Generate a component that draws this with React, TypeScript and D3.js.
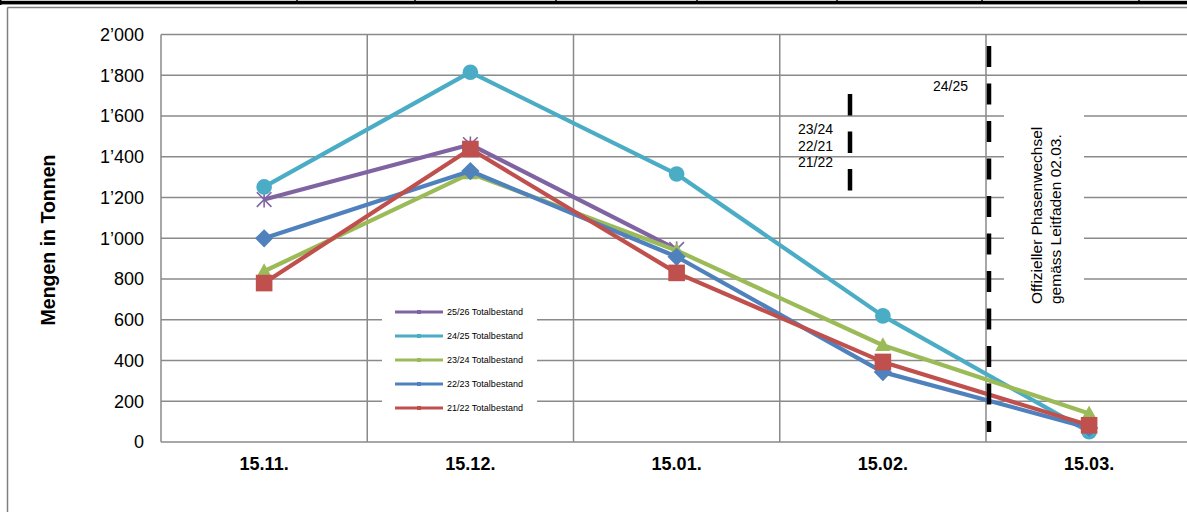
import React from "react";
import * as d3 from "d3";

const categories = ["15.11.", "15.12.", "15.01.", "15.02.", "15.03."];
const yTicks = [0, 200, 400, 600, 800, 1000, 1200, 1400, 1600, 1800, 2000];

const s2526 = [1190, 1460, 945];
const s2425 = [1252, 1815, 1315, 619, 50];
const s2324 = [838, 1318, 940, 475, 140];
const s2223 = [1000, 1330, 909, 343, 69];
const s2122 = [780, 1438, 830, 393, 82];

const seriesNames = ["25/26 Totalbestand", "24/25 Totalbestand", "23/24 Totalbestand", "22/23 Totalbestand", "21/22 Totalbestand"];
const seriesColors = ["#8064A2", "#4BACC6", "#9BBB59", "#4F81BD", "#C0504D"];
const seriesMarkers = ["star", "circle", "triangle", "diamond", "square"];
const seriesValues = [s2526, s2425, s2324, s2223, s2122];

const topTicks = [297, 415, 556, 697, 837, 982, 1139];

const FONT = "'Liberation Sans', Arial, sans-serif";
const GRID = "#8a8a8a";

const fmt = d3.formatLocale({ decimal: ".", thousands: "\u2019", grouping: [3], currency: ["", ""] }).format(",");

function Marker({ type, x, y, color, s }: { type: string; x: number; y: number; color: string; s: number }) {
  if (type === "circle") return <circle cx={x} cy={y} r={s} fill={color} />;
  if (type === "square") return <rect x={x - s} y={y - s} width={2 * s} height={2 * s} fill={color} />;
  if (type === "diamond")
    return <polygon points={`${x},${y - s * 1.25} ${x + s * 1.25},${y} ${x},${y + s * 1.25} ${x - s * 1.25},${y}`} fill={color} />;
  if (type === "triangle")
    return <polygon points={`${x},${y - s * 1.1} ${x + s * 1.05},${y + s * 0.8} ${x - s * 1.05},${y + s * 0.8}`} fill={color} />;
  return (
    <g stroke={color} strokeWidth={1.6}>
      <line x1={x - s} y1={y - s} x2={x + s} y2={y + s} />
      <line x1={x - s} y1={y + s} x2={x + s} y2={y - s} />
      <line x1={x} y1={y - s * 1.1} x2={x} y2={y + s * 1.1} />
    </g>
  );
}

export default function App() {
  const x = d3.scalePoint<string>().domain(categories).range([161, 1192.25]).padding(0.5);
  const y = d3.scaleLinear().domain([0, 2000]).range([442, 34.5]);
  const step = x.step();
  const boundaries = categories.map((c) => (x(c) as number) - step / 2).concat([(x(categories[4]) as number) + step / 2]);

  const line = d3
    .line<[number, number]>()
    .x((d) => d[0])
    .y((d) => d[1]);

  const sizeOf = (m: string) => (m === "square" ? 8.3 : m === "circle" ? 7.8 : m === "diamond" ? 7.3 : 7.3);

  return (
    <svg width={1187} height={512} style={{ position: "absolute", left: 0, top: 0, background: "#fff" }} fontFamily={FONT}>
      <rect x={0} y={0.8} width={1187} height={3.6} fill="#000" />
      <rect x={0} y={0} width={1.5} height={5} fill="#000" />
      {topTicks.map((t) => (
        <rect key={t} x={t - 0.75} y={0} width={1.5} height={4} fill="#000" />
      ))}
      <line x1={7.5} y1={7.5} x2={1187} y2={7.5} stroke="#7f7f7f" strokeWidth={1.5} />
      <line x1={7.5} y1={7.5} x2={7.5} y2={512} stroke="#7f7f7f" strokeWidth={1.5} />

      {yTicks.map((t) => (
        <line key={t} x1={161} x2={1187} y1={y(t)} y2={y(t)} stroke={GRID} strokeWidth={1.5} />
      ))}
      {boundaries.map((b, i) => (
        <line key={i} x1={b} x2={b} y1={y(2000)} y2={y(0)} stroke={GRID} strokeWidth={1.5} />
      ))}

      {yTicks.map((t) => (
        <text key={t} x={144} y={y(t)} dy="0.36em" textAnchor="end" fontSize={18} fill="#000">
          {fmt(t)}
        </text>
      ))}
      {categories.map((c) => (
        <text key={c} x={x(c) as number} y={470} textAnchor="middle" fontSize={18} fontWeight="bold" fill="#000">
          {c}
        </text>
      ))}
      <text transform="translate(55,240) rotate(-90)" textAnchor="middle" fontSize={19.5} fontWeight="bold" fill="#000">
        Mengen in Tonnen
      </text>

      {seriesValues.map((vals, si) => {
        const pts = vals.map((v, i) => [x(categories[i]) as number, y(v)] as [number, number]);
        return (
          <g key={si}>
            <path d={line(pts) || ""} fill="none" stroke={seriesColors[si]} strokeWidth={4.2} strokeLinejoin="round" />
            {pts.map((p, i) => (
              <Marker key={i} type={seriesMarkers[si]} x={p[0]} y={p[1]} color={seriesColors[si]} s={sizeOf(seriesMarkers[si])} />
            ))}
          </g>
        );
      })}

      <rect x={382} y={297} width={155} height={121} fill="#fff" />
      {seriesNames.map((n, i) => {
        const ly = 312 + i * 24;
        return (
          <g key={n}>
            <line x1={395} x2={443} y1={ly} y2={ly} stroke={seriesColors[i]} strokeWidth={3} />
            <rect x={417} y={ly - 2} width={4} height={4} fill={seriesColors[i]} />
            <text x={447} y={ly} dy="0.35em" fontSize={9} fill="#000">
              {n}
            </text>
          </g>
        );
      })}

      <rect x={1004} y={96} width={80} height={212} fill="#fff" />
      <text transform="translate(1042,304) rotate(-90)" fontSize={15.5} fill="#000">
        Offizieller Phasenwechsel
      </text>
      <text transform="translate(1061,304) rotate(-90)" fontSize={15.5} fill="#000">
        gemäss Leitfaden 02.03.
      </text>

      <line x1={989} x2={989} y1={46} y2={432} stroke="#000" strokeWidth={4.5} strokeDasharray="21 16.5" />
      <line x1={850} x2={850} y1={94} y2={191} stroke="#000" strokeWidth={4.5} strokeDasharray="21.5 16" />

      <text x={933} y={91} fontSize={14} fill="#000">24/25</text>
      <text x={798} y={134} fontSize={14} fill="#000">23/24</text>
      <text x={798} y={150.5} fontSize={14} fill="#000">22/21</text>
      <text x={798} y={167} fontSize={14} fill="#000">21/22</text>
    </svg>
  );
}
